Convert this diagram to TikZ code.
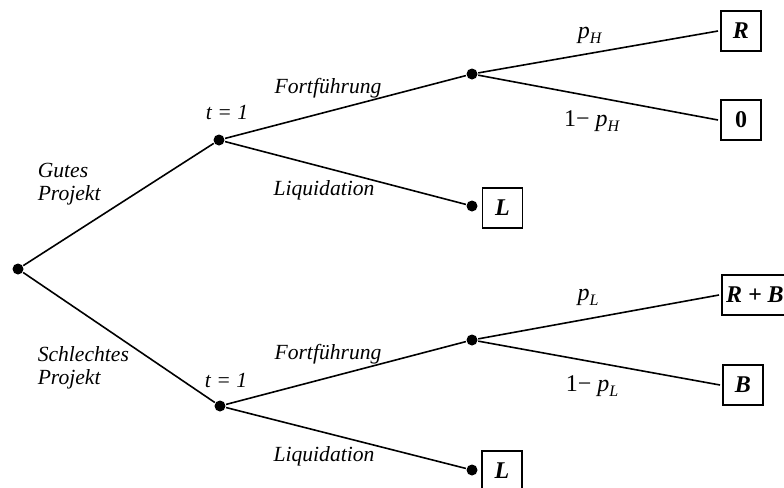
\documentclass[tikz,border=0pt]{standalone}
\usepackage{fontspec}
\setmainfont{Liberation Serif}

\tikzset{
	dot/.style={circle, fill, inner sep=0pt, minimum size=5.5pt},
	payoff/.style={draw, line width=0.6pt, minimum width=20pt, minimum height=20pt, inner sep=2pt, outer sep=1.5pt, font=\fontsize{12}{13}\selectfont\bfseries\itshape},
	lab/.style={inner sep=0pt, font=\fontsize{10.8}{11.5}\selectfont\itshape},
	prob/.style={inner sep=0pt, font=\fontsize{12}{13}\selectfont}
}
\newcommand{\probsub}[1]{\textit{p}\raisebox{-0.45ex}{\fontsize{8}{8}\selectfont\textit{#1}}}

\begin{document}
\begin{tikzpicture}[x=0.5pt, y=-0.5pt, line width=0.8pt]
				\useasboundingbox (0,0) rectangle (784,488);
				% nodes of the tree
				\node[dot] (root) at (18,269) {};
				\node[dot] (gut) at (219,140) {};
				\node[dot] (schlecht) at (220,406) {};
				\node[dot] (fgut) at (472,74) {};
				\node[dot] (lgut) at (472,206) {};
				\node[dot] (fschl) at (472,340) {};
				\node[dot] (lschl) at (472,470) {};
				% payoffs
				\node[payoff] (R) at (741,31) {R};
				\node[payoff] (null) at (741,120) {\upshape 0};
				\node[payoff] (Lgut) at (502.5,208) {L};
				\node[payoff, anchor=west] (RB) at (719,295) {R + B};
				\node[payoff] (B) at (743,385) {B};
				\node[payoff] (Lschl) at (502,471) {L};
				% branches
				\draw (root) -- (gut);
				\draw (root) -- (schlecht);
				\foreach \a/\f/\l in {gut/fgut/lgut, schlecht/fschl/lschl} {
					\draw (\a) -- (\f);
					\draw (\a) -- (\l);
				}
				\draw (fgut) -- (R.west);
				\draw (fgut) -- (null.west);
				\draw (fschl) -- (RB.west);
				\draw (fschl) -- (B.west);
				% labels
				\node[lab, anchor=north west, align=left] (gutlab) at (37,162) {Gutes\\Projekt};
				\node[lab, anchor=north west, align=left] (schlab) at (37,346) {Schlechtes\\Projekt};
				\node[lab] (tgut) at (227,112) {t = 1};
				\node[lab] (tschl) at (226,380) {t = 1};
				\node[lab] (fortgut) at (328,88) {Fortführung};
				\node[lab] (fortschl) at (328,354) {Fortführung};
				\node[lab] (liqgut) at (324,190) {Liquidation};
				\node[lab] (liqschl) at (324,456) {Liquidation};
				\node[prob] (pH) at (590,35) {\probsub{H}};
				\node[prob] (qH) at (592,121) {1− \probsub{H}};
				\node[prob] (pL) at (588,297) {\probsub{L}};
				\node[prob] (qL) at (592,386) {1− \probsub{L}};
			\end{tikzpicture}
\end{document}
